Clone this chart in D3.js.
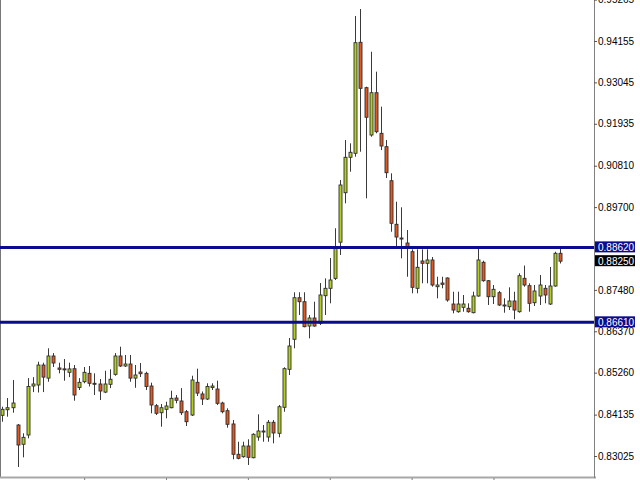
<!DOCTYPE html>
<html><head><meta charset="utf-8">
<script src="https://cdn.jsdelivr.net/npm/d3@7/dist/d3.min.js"></script>
<style>html,body{margin:0;padding:0;background:#fff;}svg{display:block;}</style>
</head><body>
<svg id="chart" width="640" height="480"></svg>
<script>
// ---- data (EURGBP-like daily candles) ----
const open = [0.84116,0.84266,0.84320,0.83856,0.83339,0.83588,0.84902,0.84929,0.85465,0.85114,
0.85707,0.85385,0.85362,0.85269,0.85366,0.84862,0.85017,0.85242,0.84975,0.84956,
0.84739,0.84948,0.85215,0.85707,0.85439,0.85492,0.85114,0.85277,0.85242,0.84902,
0.84374,0.84186,0.84277,0.84320,0.84580,0.84500,0.84213,0.84124,0.85001,0.84688,
0.84553,0.84862,0.84821,0.84446,0.84240,0.83884,0.83071,0.83006,0.83293,0.82979,
0.83534,0.83695,0.83534,0.83929,0.83634,0.84331,0.85350,0.86155,0.87270,0.87163,
0.86511,0.86726,0.86584,0.87324,0.87522,0.87790,0.88759,0.90086,0.91036,0.91143,
0.94120,0.92903,0.91634,0.92768,0.91679,0.91321,0.90408,0.89239,0.88871,0.88737,
0.88504,0.87522,0.88255,0.88193,0.88282,0.87566,0.87664,0.87799,0.87101,0.86895,
0.87013,0.86986,0.86868,0.87316,0.88220,0.87726,0.87297,0.87404,0.87075,0.87029,
0.87182,0.86895,0.87790,0.87593,0.87136,0.87316,0.87522,0.87101,0.87584,0.88461];
const high = [0.84347,0.84580,0.85063,0.83883,0.83634,0.85114,0.85141,0.85554,0.85527,0.85913,
0.85785,0.85527,0.85626,0.85527,0.85465,0.85114,0.85412,0.85439,0.85242,0.85090,
0.85312,0.85350,0.85785,0.85956,0.85734,0.85734,0.85465,0.85519,0.85285,0.84991,
0.84419,0.84419,0.84481,0.84776,0.84661,0.84846,0.84258,0.85178,0.85367,0.84755,
0.84975,0.84975,0.85044,0.84481,0.84304,0.83990,0.83408,0.83408,0.83473,0.83634,
0.84143,0.83856,0.83990,0.83990,0.84393,0.85404,0.86189,0.87415,0.87415,0.87415,
0.86806,0.87163,0.87664,0.87790,0.88335,0.89132,0.90427,0.91500,0.91411,0.94826,
0.95013,0.92930,0.93868,0.93332,0.92393,0.91500,0.90606,0.89845,0.89695,0.89086,
0.88568,0.88568,0.88568,0.88568,0.88362,0.87833,0.87833,0.87815,0.87431,0.87431,
0.87343,0.87120,0.87431,0.88595,0.88263,0.87745,0.87611,0.87450,0.87254,0.87549,
0.87431,0.87924,0.88133,0.87657,0.87611,0.87879,0.87611,0.88095,0.88504,0.88586];
const low = [0.83945,0.84079,0.84186,0.82730,0.82990,0.83499,0.84739,0.84728,0.84739,0.85017,
0.85412,0.85242,0.85044,0.85141,0.84508,0.84795,0.84975,0.84889,0.84661,0.84527,
0.84712,0.84846,0.85178,0.85412,0.85412,0.85017,0.84854,0.85143,0.84795,0.84170,
0.84124,0.83811,0.84036,0.84304,0.84438,0.84124,0.83829,0.84097,0.84634,0.84393,
0.84527,0.84795,0.84393,0.84170,0.83784,0.82936,0.82936,0.82979,0.82784,0.82963,
0.83435,0.83408,0.83408,0.83365,0.83526,0.84213,0.85197,0.85913,0.86806,0.86477,
0.86181,0.86493,0.86539,0.86806,0.87120,0.87745,0.88416,0.89802,0.90650,0.91052,
0.91186,0.89936,0.91588,0.91679,0.91230,0.90481,0.89040,0.88622,0.88327,0.87833,
0.87388,0.87388,0.87657,0.87657,0.87566,0.87254,0.87522,0.87163,0.86852,0.86868,
0.86895,0.86868,0.86852,0.87298,0.87699,0.87075,0.87101,0.87048,0.86868,0.86940,
0.86691,0.86868,0.87566,0.86895,0.87048,0.87075,0.87120,0.87075,0.87566,0.88188];
const close = [0.84277,0.84320,0.84446,0.83320,0.83526,0.84889,0.84956,0.85465,0.85141,0.85707,
0.85519,0.85350,0.85358,0.85360,0.84661,0.85001,0.85269,0.84975,0.84948,0.84768,
0.84956,0.85082,0.85707,0.85439,0.85492,0.85114,0.85197,0.85232,0.84889,0.84393,
0.84170,0.84320,0.84366,0.84572,0.84519,0.84186,0.83945,0.85063,0.84712,0.84553,
0.84889,0.84902,0.84438,0.84213,0.83875,0.83071,0.82963,0.83293,0.82990,0.83607,
0.83695,0.83690,0.83929,0.83642,0.84347,0.85367,0.85975,0.87270,0.87163,0.86493,
0.86726,0.86511,0.87343,0.87522,0.87745,0.88595,0.90293,0.91036,0.91170,0.94109,
0.92886,0.92110,0.92768,0.91722,0.91339,0.90623,0.89266,0.88898,0.88866,0.88622,
0.87549,0.88086,0.88193,0.88282,0.87611,0.87611,0.87629,0.87209,0.86940,0.87101,
0.87101,0.86895,0.87316,0.88282,0.87726,0.87297,0.87495,0.87075,0.87048,0.87182,
0.86940,0.87860,0.87611,0.87120,0.87450,0.87611,0.87343,0.87584,0.88461,0.88250];
const bars = d3.range(open.length);
const tickValues = [0.95265,0.94155,0.93045,0.91935,0.90810,0.89700,0.87480,0.86370,0.85260,0.84135,0.83025];
const levelLines = [0.88620, 0.86610];
const lastPrice = 0.88250;
const timeTickBars = [16, 32, 48, 64, 80, 96];

// ---- layout ----
const svg = d3.select("#chart");
const plotRight = 594;
const axisBottomY = 477;
const x = d3.scalePoint().domain(bars).range([2.3, 560]);
const y = d3.scaleLinear().domain([0.83025, 0.94155]).range([456, 41]);
const bullFill = "#b4cf1f", bearFill = "#e4581f", edge = "#2e2e2e";

// candles
const g = svg.append("g");
bars.forEach(i => {
  const cx = Math.round(x(i)) + 0.5;
  g.append("line").attr("x1", cx).attr("x2", cx)
    .attr("y1", y(high[i])).attr("y2", y(low[i]))
    .attr("stroke", "#3a3a3a").attr("stroke-width", 1);
  const top = y(Math.max(open[i], close[i]));
  const bot = y(Math.min(open[i], close[i]));
  const h = Math.max(bot - top, 1);
  g.append("rect").attr("x", cx - 1.5).attr("y", top).attr("width", 3).attr("height", h)
    .attr("fill", close[i] >= open[i] ? bullFill : bearFill)
    .attr("stroke", edge).attr("stroke-width", 0.9);
});

// frame lines
svg.append("line").attr("x1", 0.5).attr("x2", 0.5).attr("y1", 0).attr("y2", axisBottomY)
  .attr("stroke", "#777").attr("stroke-width", 1);
svg.append("line").attr("x1", 0).attr("x2", plotRight + 2).attr("y1", axisBottomY + 0.5).attr("y2", axisBottomY + 0.5)
  .attr("stroke", "#a8a8a8").attr("stroke-width", 2);
svg.append("line").attr("x1", plotRight + 0.5).attr("x2", plotRight + 0.5).attr("y1", 0).attr("y2", axisBottomY + 1)
  .attr("stroke", "#808080").attr("stroke-width", 1);

// bottom time ticks (labels off-canvas)
const xAxis = d3.axisBottom(x).tickValues(timeTickBars).tickFormat(() => "").tickSize(3);
const gx = svg.append("g").attr("transform", `translate(0,${axisBottomY + 1})`).call(xAxis);
gx.select(".domain").remove();
gx.selectAll(".tick line").attr("stroke", "#808080");

// price axis
const yAxis = d3.axisRight(y).tickValues(tickValues).tickFormat(d3.format(".5f")).tickSize(3).tickPadding(1);
const gy = svg.append("g").attr("transform", `translate(${plotRight},0)`).call(yAxis);
gy.select(".domain").remove();
gy.selectAll(".tick line").attr("stroke", "#555");
gy.selectAll(".tick text").attr("fill", "#000").attr("font-family", "Liberation Sans, Arial, sans-serif").attr("font-size", 10);

// horizontal level lines
levelLines.forEach(v => {
  svg.append("line").attr("x1", 0).attr("x2", plotRight).attr("y1", y(v)).attr("y2", y(v))
    .attr("stroke", "#0b0b8e").attr("stroke-width", 3);
});

// price tags
function tag(v, bg) {
  const yy = y(v);
  svg.append("rect").attr("x", plotRight + 1).attr("y", yy - 6).attr("width", 40).attr("height", 11).attr("fill", bg);
  svg.append("text").attr("x", plotRight + 4).attr("y", yy).attr("dy", "0.35em")
    .attr("fill", "#fff").attr("font-family", "Liberation Sans, Arial, sans-serif").attr("font-size", 10)
    .text(d3.format(".5f")(v));
}
levelLines.forEach(v => tag(v, "#0b0b8e"));
tag(lastPrice, "#000");
</script>
</body></html>
